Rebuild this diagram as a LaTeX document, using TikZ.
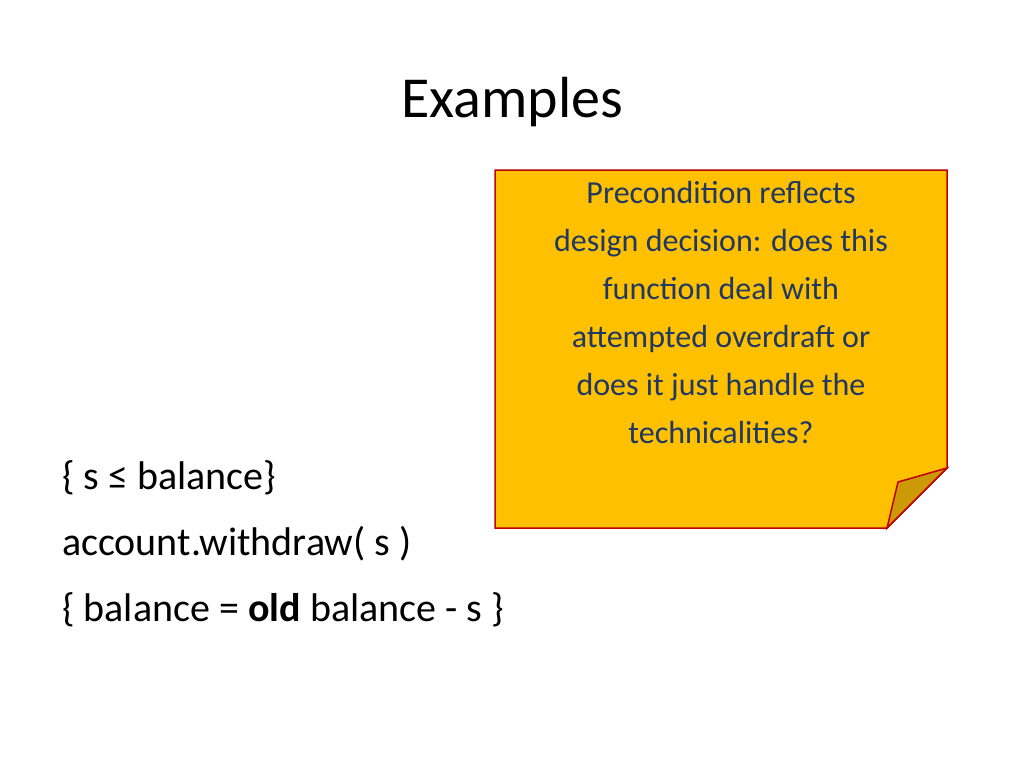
\documentclass[tikz,border=0pt]{standalone}
\usepackage{fontspec}
\setmainfont{Carlito}
\definecolor{notefill}{HTML}{FFC000}
\definecolor{noteedge}{HTML}{C00000}
\definecolor{foldfill}{HTML}{CC9A06}
\definecolor{notetext}{HTML}{1F3864}
\tikzset{body/.style={anchor=base west,inner sep=0pt,font=\fontsize{40}{48}\selectfont}}
\begin{document}
\begin{tikzpicture}[x=1pt,y=-1pt]
\useasboundingbox (0,0) rectangle (1024,768);
\node[anchor=base,inner sep=0pt,font=\fontsize{58}{66}\selectfont] (title) at (512,117) {Examples};
\draw[noteedge,fill=notefill,line width=1.5pt] (495,170) -- (947,170) -- (947,468) -- (887,528) -- (495,528) -- cycle;
\draw[noteedge,fill=foldfill,line width=1.5pt] (947,468) -- (898,482) -- (887,528) -- cycle;
\node[align=center,anchor=north,inner sep=0pt,text=notetext,font=\fontsize{32}{48}\selectfont] (note) at (721,181)
 {Precondition reflects\\design decision: does this\\function deal with\\attempted overdraft or\\does it just handle the\\technicalities?};
\node[body] (l1) at (62,489) {\{ s ≤ balance\}};
\node[body] (l2) at (62,555) {account.withdraw( s )};
\node[body] (l3) at (62,621) {\{ balance = \textbf{old} balance - s \}};
\end{tikzpicture}
\end{document}
